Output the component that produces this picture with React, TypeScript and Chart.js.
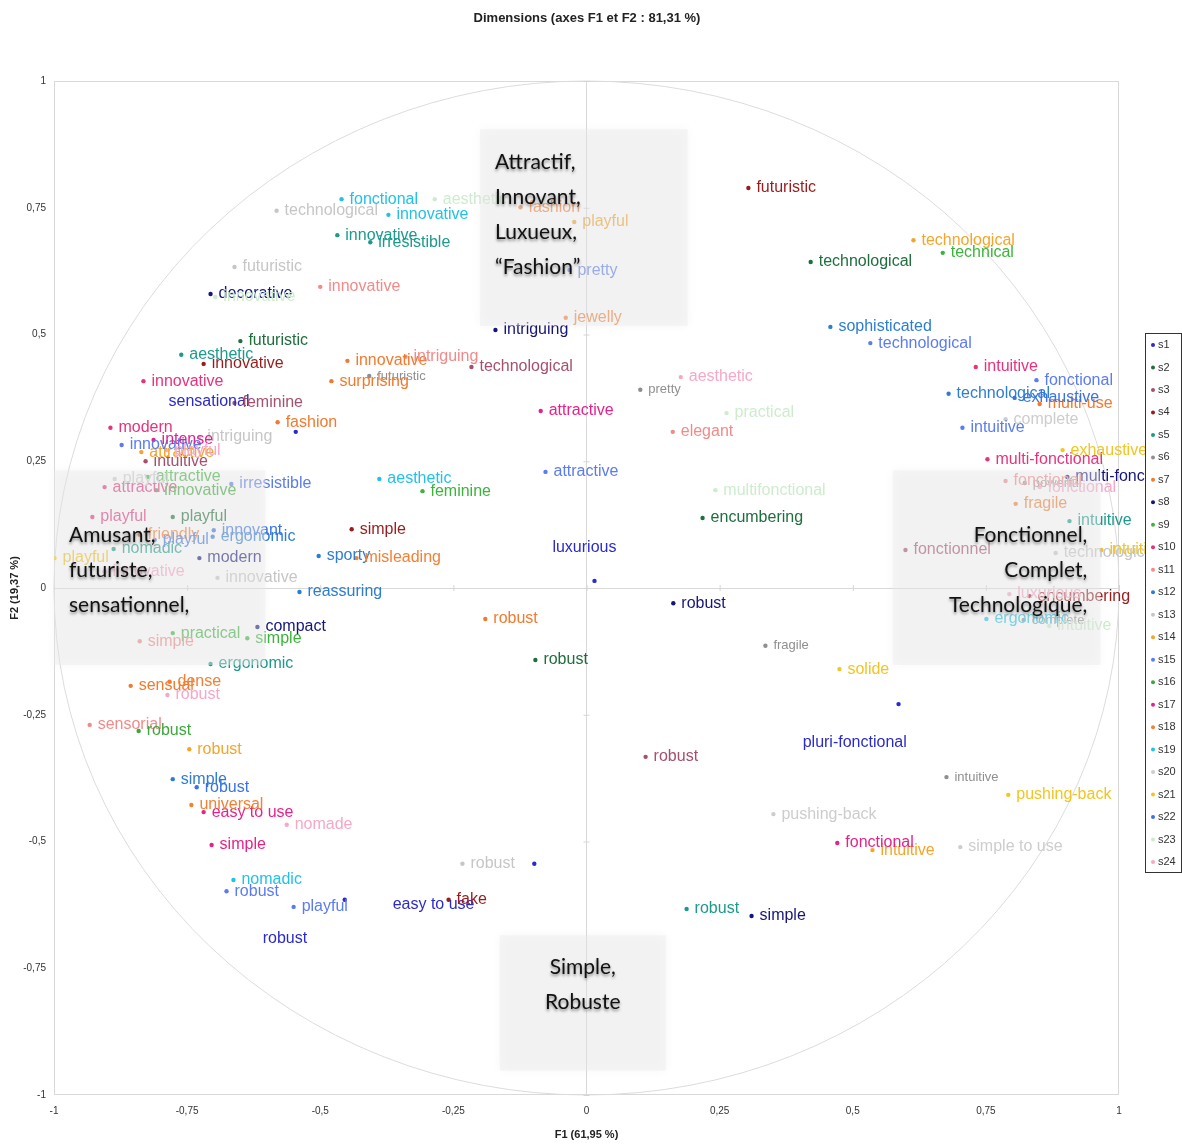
import React, { useEffect, useRef } from "react";
import { Chart, registerables } from "chart.js";

Chart.register(...registerables);

// ---------- data ----------
const chartTitle = "Dimensions (axes F1 et F2 : 81,31 %)";
const xAxisTitle = "F1 (61,95 %)";
const yAxisTitle = "F2 (19,37 %)";
const axisMin = -1;
const axisMax = 1;
const axisStep = 0.25;

type Pt = [number, number, string];

const s1: Pt[] = [
  [-0.546, 0.308, "sensational"],
  [0.015, 0.014, "luxurious"],
  [0.586, -0.229, "pluri-fonctional"],
  [-0.098, -0.544, "easy to use"],
  [-0.454, -0.615, "robust"],
];
// s1 labels are printed away from their points: label anchors (data units)
const s1LabelAt: [number, number][] = [
  [-0.785, 0.367],
  [-0.064, 0.079],
  [0.406, -0.304],
  [-0.364, -0.625],
  [-0.608, -0.692],
];
const s2: Pt[] = [
  [-0.65, 0.487, "futuristic"],
  [0.421, 0.643, "technological"],
  [0.218, 0.138, "encumbering"],
  [-0.096, -0.142, "robust"],
  [-0.777, 0.14, "playful"],
];
const s3: Pt[] = [
  [-0.661, 0.365, "feminine"],
  [-0.216, 0.436, "technological"],
  [-0.828, 0.25, "intuitive"],
  [0.599, 0.075, "fonctionnel"],
  [0.111, -0.333, "robust"],
];
const s4: Pt[] = [
  [-0.719, 0.442, "innovative"],
  [-0.441, 0.116, "simple"],
  [0.304, 0.789, "futuristic"],
  [-0.259, -0.615, "fake"],
  [0.832, -0.016, "encumbering"],
];
const s5: Pt[] = [
  [-0.468, 0.696, "innovative"],
  [-0.406, 0.682, "irresistible"],
  [-0.761, 0.46, "aesthetic"],
  [-0.888, 0.077, "nomadic"],
  [-0.706, -0.15, "ergonomic"],
  [0.188, -0.633, "robust"],
  [0.907, 0.132, "intuitive"],
];
const s6: Pt[] = [
  [-0.408, 0.418, "futuristic"],
  [0.101, 0.391, "pretty"],
  [0.823, 0.207, "powerful"],
  [0.336, -0.114, "fragile"],
  [0.676, -0.373, "intuitive"],
  [0.821, -0.063, "complete"],
];
const s7: Pt[] = [
  [-0.58, 0.327, "fashion"],
  [-0.449, 0.448, "innovative"],
  [-0.479, 0.408, "surprising"],
  [-0.19, -0.061, "robust"],
  [-0.856, -0.193, "sensual"],
  [0.851, 0.363, "multi-use"],
];
const s8: Pt[] = [
  [-0.706, 0.58, "decorative"],
  [-0.171, 0.509, "intriguing"],
  [-0.727, 0.059, "modern"],
  [-0.618, -0.077, "compact"],
  [0.163, -0.03, "robust"],
  [0.31, -0.647, "simple"],
  [0.903, 0.219, "multi-fonctional"],
];
const s9: Pt[] = [
  [-0.824, 0.219, "attractive"],
  [-0.308, 0.191, "feminine"],
  [-0.777, -0.089, "practical"],
  [-0.637, -0.099, "simple"],
  [0.669, 0.661, "technical"],
];
const s10: Pt[] = [
  [-0.832, 0.408, "innovative"],
  [-0.894, 0.316, "modern"],
  [-0.905, 0.199, "attractive"],
  [-0.928, 0.14, "playful"],
  [0.731, 0.436, "intuitive"],
  [0.753, 0.254, "multi-fonctional"],
];
const s11: Pt[] = [
  [-0.5, 0.594, "innovative"],
  [-0.34, 0.456, "intriguing"],
  [0.162, 0.308, "elegant"],
  [-0.839, -0.105, "simple"],
  [-0.933, -0.27, "sensorial"],
  [0.787, 0.211, "fonctional"],
];
const s12: Pt[] = [
  [0.458, 0.515, "sophisticated"],
  [0.68, 0.383, "technological"],
  [-0.539, -0.008, "reassuring"],
  [-0.503, 0.063, "sporty"],
  [-0.702, 0.101, "ergonomic"],
  [-0.777, -0.377, "simple"],
];
const s13: Pt[] = [
  [-0.582, 0.744, "technological"],
  [-0.661, 0.633, "futuristic"],
  [-0.727, 0.298, "intriguing"],
  [-0.693, 0.02, "innovative"],
  [-0.233, -0.544, "robust"],
  [0.881, 0.069, "technological"],
];
const s14: Pt[] = [
  [-0.023, 0.722, "playful"],
  [0.614, 0.686, "technological"],
  [-0.746, -0.318, "robust"],
  [0.537, -0.517, "intuitive"],
  [-0.836, 0.268, "attractive"],
];
const s15: Pt[] = [
  [-0.032, 0.627, "pretty"],
  [-0.077, 0.229, "attractive"],
  [-0.667, 0.205, "irresistible"],
  [-0.873, 0.282, "innovative"],
  [0.533, 0.483, "technological"],
  [0.845, 0.41, "fonctional"],
  [0.706, 0.316, "intuitive"],
  [-0.676, -0.598, "robust"],
  [-0.55, -0.629, "playful"],
];
const s16: Pt[] = [
  [-0.808, 0.193, "innovative"],
  [-0.841, -0.282, "robust"],
];
const s17: Pt[] = [
  [-0.086, 0.349, "attractive"],
  [-0.813, 0.292, "intense"],
  [-0.719, -0.442, "easy to use"],
  [-0.704, -0.507, "simple"],
  [0.471, -0.503, "fonctional"],
];
const s18: Pt[] = [
  [-0.039, 0.533, "jewelly"],
  [-0.124, 0.751, "fashion"],
  [-0.432, 0.059, "misleading"],
  [-0.839, 0.105, "friendly"],
  [-0.783, -0.185, "dense"],
  [-0.742, -0.428, "universal"],
  [0.806, 0.166, "fragile"],
];
const s19: Pt[] = [
  [-0.46, 0.767, "fonctional"],
  [-0.372, 0.736, "innovative"],
  [-0.389, 0.215, "aesthetic"],
  [-0.663, -0.576, "nomadic"],
  [0.751, -0.061, "ergonomic"],
];
const s20: Pt[] = [
  [0.351, -0.446, "pushing-back"],
  [0.702, -0.511, "simple to use"],
  [0.787, 0.333, "complete"],
  [-0.886, 0.215, "playful"],
];
const s21: Pt[] = [
  [0.475, -0.16, "solide"],
  [0.792, -0.408, "pushing-back"],
  [0.894, 0.272, "exhaustive"],
  [0.967, 0.075, "intuitive"],
  [-0.999, 0.059, "playful"],
];
const s22: Pt[] = [
  [0.804, 0.375, "exhaustive"],
  [-0.7, 0.114, "innovant"],
  [-0.732, -0.393, "robust"],
  [-0.811, 0.095, "playful"],
];
const s23: Pt[] = [
  [-0.285, 0.767, "aesthetic"],
  [-0.697, 0.574, "innovative"],
  [0.263, 0.345, "practical"],
  [0.242, 0.193, "multifonctional"],
  [0.869, -0.075, "intuitive"],
];
const s24: Pt[] = [
  [0.177, 0.416, "aesthetic"],
  [-0.563, -0.467, "nomade"],
  [-0.787, -0.211, "robust"],
  [-0.789, 0.272, "playful"],
  [-0.905, 0.032, "innovative"],
  [0.851, 0.199, "fonctional"],
  [0.794, -0.012, "luxurious"],
];

const seriesNames = [
  "s1", "s2", "s3", "s4", "s5", "s6", "s7", "s8", "s9", "s10", "s11", "s12",
  "s13", "s14", "s15", "s16", "s17", "s18", "s19", "s20", "s21", "s22", "s23", "s24",
];
const seriesData: Pt[][] = [
  s1, s2, s3, s4, s5, s6, s7, s8, s9, s10, s11, s12,
  s13, s14, s15, s16, s17, s18, s19, s20, s21, s22, s23, s24,
];

// quadrant captions
const captionTop = ["Attractif,", "Innovant,", "Luxueux,", "\u201CFashion\u201D"];
const captionLeft = ["Amusant,", "futuriste,", "sensationnel,"];
const captionRight = ["Fonctionnel,", "Complet,", "Technologique,"];
const captionBottom = ["Simple,", "Robuste"];

// ---------- styles ----------
const seriesColors = [
  "#2b2bc8", "#1f6e3c", "#a5506f", "#981c1c", "#1c9a8b", "#8f8f8f",
  "#f27a2e", "#15157a", "#3cb43c", "#e8327e", "#f28a8a", "#2d7dd2",
  "#c6c6c6", "#f5a52a", "#5b7cf0", "#3ca83c", "#e6228a", "#f38035",
  "#22c2e6", "#cdcdcd", "#f2c522", "#3a73e6", "#cdeccd", "#f7a7c7",
];
const FONT = '"Liberation Sans", Arial, sans-serif';

const fmt = (v: number) => String(v).replace(".", ",");

export default function App() {
  const ref = useRef<HTMLCanvasElement | null>(null);

  useEffect(() => {
    if (!ref.current) return;

    const overlay = {
      id: "overlay",
      beforeDatasetsDraw(chart: any) {
        const { ctx, chartArea: a, scales } = chart;
        const xs = scales.x, ys = scales.y;
        ctx.save();
        // frame
        ctx.strokeStyle = "#d9d9d9";
        ctx.lineWidth = 1;
        ctx.strokeRect(a.left + 0.5, a.top + 0.5, a.right - a.left - 1, a.bottom - a.top - 1);
        // unit circle
        const cx = xs.getPixelForValue(0), cy = ys.getPixelForValue(0);
        const rx = xs.getPixelForValue(1) - cx, ry = cy - ys.getPixelForValue(1);
        ctx.strokeStyle = "#dcdcdc";
        ctx.beginPath();
        ctx.ellipse(cx, cy, rx, ry, 0, 0, Math.PI * 2);
        ctx.stroke();
        // small ticks on zero axes
        ctx.strokeStyle = "#d4d4d4";
        for (let v = axisMin; v <= axisMax + 1e-9; v += axisStep) {
          const px = xs.getPixelForValue(v), py = ys.getPixelForValue(v);
          ctx.beginPath();
          ctx.moveTo(px + 0.5, cy - 3);
          ctx.lineTo(px + 0.5, cy + 3);
          ctx.moveTo(cx - 3, py + 0.5);
          ctx.lineTo(cx + 3, py + 0.5);
          ctx.stroke();
        }
        ctx.restore();
      },
      afterDatasetsDraw(chart: any) {
        const { ctx, scales } = chart;
        const xs = scales.x, ys = scales.y;
        ctx.save();
        ctx.textBaseline = "middle";
        ctx.textAlign = "left";
        chart.data.datasets.forEach((ds: any, i: number) => {
          const meta = chart.getDatasetMeta(i);
          ctx.fillStyle = ds.backgroundColor;
          ctx.font = `${ds.labelSize}px ${FONT}`;
          meta.data.forEach((el: any, j: number) => {
            const text = ds.labels[j];
            if (i === 0) {
              const [lx, ly] = s1LabelAt[j];
              ctx.fillText(text, xs.getPixelForValue(lx), ys.getPixelForValue(ly));
            } else {
              ctx.fillText(text, el.x + 8, el.y);
            }
          });
        });

        // caption boxes
        const boxes = [
          { x0: -0.2, y0: 0.905, x1: 0.19, y1: 0.517, lines: captionTop, align: "left", first: 33 },
          { x0: -1.0, y0: 0.232, x1: -0.603, y1: -0.152, lines: captionLeft, align: "left", first: 65 },
          { x0: 0.575, y0: 0.232, x1: 0.965, y1: -0.152, lines: captionRight, align: "right", first: 65 },
          { x0: -0.163, y0: -0.685, x1: 0.149, y1: -0.952, lines: captionBottom, align: "center", first: 32 },
        ];
        const lineGap = 35;
        boxes.forEach((b) => {
          const L = xs.getPixelForValue(b.x0), R = xs.getPixelForValue(b.x1);
          const T = ys.getPixelForValue(b.y0), B = ys.getPixelForValue(b.y1);
          ctx.save();
          ctx.shadowColor = "rgba(0,0,0,0.08)";
          ctx.shadowBlur = 10;
          ctx.fillStyle = "rgba(236,236,236,0.45)";
          ctx.fillRect(L, T, R - L, B - T);
          ctx.restore();
        });
        boxes.forEach((b) => {
          const L = xs.getPixelForValue(b.x0), R = xs.getPixelForValue(b.x1);
          const T = ys.getPixelForValue(b.y0);
          ctx.save();
          ctx.font = `21px Lato, "Open Sans", sans-serif`;
          ctx.fillStyle = "#111";
          ctx.shadowColor = "rgba(0,0,0,0.45)";
          ctx.shadowBlur = 3;
          ctx.shadowOffsetY = 2;
          ctx.textBaseline = "middle";
          b.lines.forEach((ln: string, k: number) => {
            const y = T + b.first + k * lineGap;
            if (b.align === "left") {
              ctx.textAlign = "left";
              ctx.fillText(ln, L + 15, y);
            } else if (b.align === "right") {
              ctx.textAlign = "right";
              ctx.fillText(ln, R - 13, y);
            } else {
              ctx.textAlign = "center";
              ctx.fillText(ln, (L + R) / 2, y);
            }
          });
          ctx.restore();
        });

        // legend
        const lx = 1145, ly = 333, lw = 36, lh = 539;
        ctx.fillStyle = "#ffffff";
        ctx.fillRect(lx, ly, lw, lh);
        ctx.strokeStyle = "#333";
        ctx.lineWidth = 1;
        ctx.strokeRect(lx + 0.5, ly + 0.5, lw, lh);
        ctx.font = `11px ${FONT}`;
        ctx.textAlign = "left";
        ctx.textBaseline = "middle";
        const step = (lh - 22) / (seriesNames.length - 1);
        chart.data.datasets.forEach((ds: any, i: number) => {
          const y = ly + 12 + i * step;
          ctx.fillStyle = ds.backgroundColor;
          ctx.beginPath();
          ctx.arc(lx + 8, y, 2, 0, Math.PI * 2);
          ctx.fill();
          ctx.fillStyle = "#333";
          ctx.fillText(ds.label, lx + 13, y);
        });

        // title
        ctx.font = `bold 13px ${FONT}`;
        ctx.fillStyle = "#222";
        ctx.textAlign = "center";
        ctx.fillText(chartTitle, 587, 18);
        ctx.restore();
      },
    };

    const chart = new Chart(ref.current, {
      type: "scatter",
      data: {
        datasets: seriesData.map((pts, i) => ({
          label: seriesNames[i],
          data: pts.map((p) => ({ x: p[0], y: p[1] })),
          labels: pts.map((p) => p[2]),
          labelSize: i === 5 ? 13 : 16,
          backgroundColor: seriesColors[i],
          borderColor: seriesColors[i],
          pointRadius: 2.2,
          borderWidth: 0,
        })) as any,
      },
      options: {
        animation: false,
        responsive: false,
        layout: { padding: { top: 81, right: 63, bottom: 0, left: 0 } },
        plugins: { legend: { display: false }, tooltip: { enabled: false }, title: { display: false } },
        scales: {
          x: {
            type: "linear",
            min: axisMin,
            max: axisMax,
            afterFit: (s: any) => { s.height = 49; },
            afterBuildTicks: (s: any) => {
              const t = [];
              for (let v = axisMin; v <= axisMax + 1e-9; v += axisStep) t.push({ value: Math.round(v * 100) / 100 });
              s.ticks = t;
            },
            ticks: {
              callback: (v: any) => fmt(v),
              font: { size: 10, family: FONT },
              color: "#333",
              padding: 10,
              maxRotation: 0,
            },
            grid: {
              drawTicks: false,
              color: (c: any) => (c.tick && c.tick.value === 0 ? "#d9d9d9" : "rgba(0,0,0,0)"),
            },
            border: { display: false },
            title: {
              display: true,
              text: xAxisTitle,
              font: { size: 11, weight: "bold", family: FONT },
              color: "#222",
              padding: { top: 0, bottom: 2 },
            },
          },
          y: {
            type: "linear",
            min: axisMin,
            max: axisMax,
            afterFit: (s: any) => { s.width = 54; },
            afterBuildTicks: (s: any) => {
              const t = [];
              for (let v = axisMin; v <= axisMax + 1e-9; v += axisStep) t.push({ value: Math.round(v * 100) / 100 });
              s.ticks = t;
            },
            ticks: {
              callback: (v: any) => fmt(v),
              font: { size: 10, family: FONT },
              color: "#333",
              padding: 8,
            },
            grid: {
              drawTicks: false,
              color: (c: any) => (c.tick && c.tick.value === 0 ? "#d9d9d9" : "rgba(0,0,0,0)"),
            },
            border: { display: false },
            title: {
              display: true,
              text: yAxisTitle,
              font: { size: 11, weight: "bold", family: FONT },
              color: "#222",
              padding: { top: 8, bottom: 0 },
            },
          },
        },
      } as any,
      plugins: [overlay],
    });
    return () => chart.destroy();
  }, []);

  return (
    <div style={{ position: "absolute", left: 0, top: 0, width: 1182, height: 1144, background: "#fff" }}>
      <canvas ref={ref} width={1182} height={1144} style={{ display: "block" }} />
    </div>
  );
}
